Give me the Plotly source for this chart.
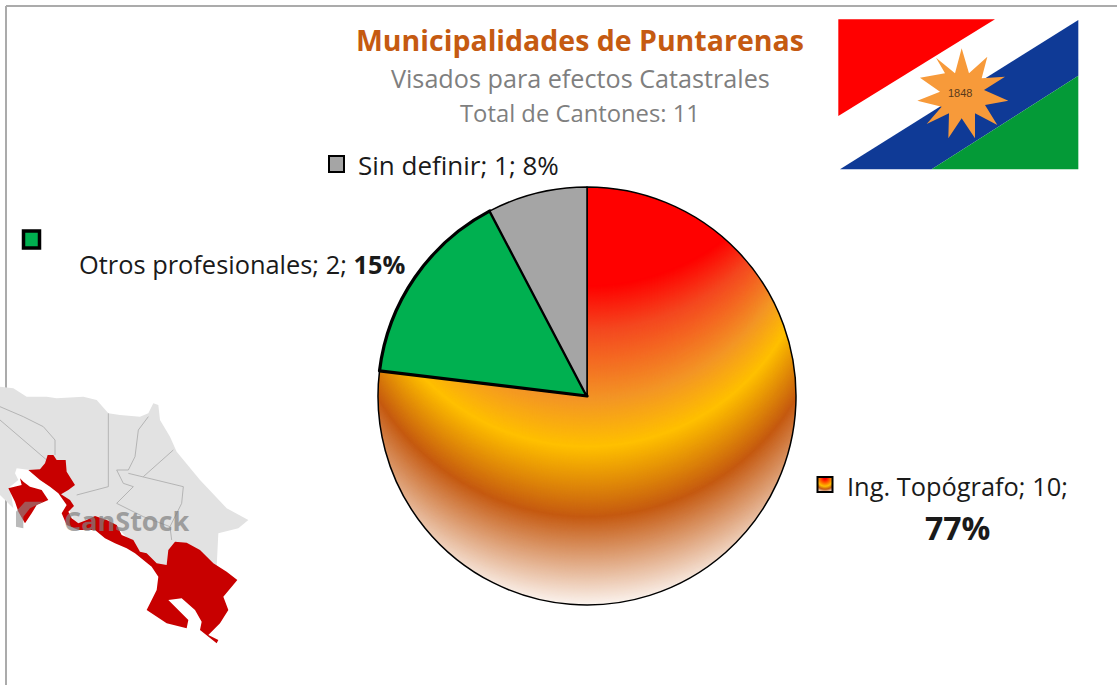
import base64
import plotly.graph_objects as go

W, H = 1117, 685

# ---- data ----
categories = ["Ing. Topógrafo", "Otros profesionales", "Sin definir"]
values = [10, 2, 1]
percents = [77, 15, 8]
title_text = "Municipalidades de Puntarenas"
subtitle_text = "Visados para efectos Catastrales"
total_text = "Total de Cantones: 11"
flag_year = "1848"
watermark = "CanStock"

FONT = "'Open Sans', sans-serif"
PIE_BOX = (378, 187, 796, 605)


def px(x):
    return x / W


def py(y):
    return 1 - y / H


def poly(points, ox, oy, s=1.0):
    parts = []
    for i, (a, b) in enumerate(points):
        parts.append(("M" if i == 0 else "L") + f"{px(ox + a * s):.5f},{py(oy + b * s):.5f}")
    return " ".join(parts)


def uri(svg):
    return "data:image/svg+xml;base64," + base64.b64encode(svg.encode()).decode()


def shape_poly(points, fill, ox, oy, s=1.0, line=None, lw=0, close=True, layer="below"):
    return dict(type="path", xref="paper", yref="paper", layer=layer,
                path=poly(points, ox, oy, s) + (" Z" if close else ""),
                fillcolor=fill if close else "rgba(0,0,0,0)",
                line=dict(color=line or "rgba(0,0,0,0)", width=lw))


def box(x0, y0, x1, y1, fill, line, lw):
    return dict(type="rect", xref="paper", yref="paper", layer="above",
                x0=px(x0), x1=px(x1), y0=py(y1), y1=py(y0),
                fillcolor=fill, line=dict(color=line, width=lw))


# Fill of the large slice: Plotly pies have no gradient fill, so a picture sits under
# the transparent slice. Its bands are not concentric, hence a stack of circles:
# (band's lowest y, band's centre y, colour), in page pixels.
gradient_bands = [
    (605, 300, (251, 243, 238)),
    (517, 273, (197, 90, 17)),
    (447, 219, (255, 192, 0)),
    (400, 180, (243, 150, 38)),
    (330, 105, (244, 72, 32)),
    (285, 60, (255, 0, 0)),
]
pie_size = PIE_BOX[2] - PIE_BOX[0]
circles = []
for (b0, c0, col0), (b1, c1, col1) in zip(gradient_bands, gradient_bands[1:]):
    steps = 2 * (b0 - b1)
    for i in range(steps):
        t = i / steps
        bottom = b0 + (b1 - b0) * t
        centre = c0 + (c1 - c0) * t
        rgb = ",".join(f"{col0[k] + (col1[k] - col0[k]) * t:.0f}" for k in range(3))
        circles.append(f'<circle cx="209" cy="{centre - PIE_BOX[1]:.2f}" r="{bottom - centre:.2f}" fill="rgb({rgb})"/>')
gradient_svg = f'''<svg xmlns="http://www.w3.org/2000/svg" width="{pie_size}" height="{pie_size}" viewBox="0 0 {pie_size} {pie_size}">
<defs><clipPath id="c"><circle cx="209" cy="209" r="208.5"/></clipPath></defs>
<g clip-path="url(#c)"><rect width="{pie_size}" height="{pie_size}" fill="rgb(251,243,238)"/>{"".join(circles)}</g></svg>'''

key_svg = '''<svg xmlns="http://www.w3.org/2000/svg" width="16" height="16" viewBox="0 0 16 16">
<defs><radialGradient id="k" gradientUnits="userSpaceOnUse" cx="8" cy="1" r="15">
<stop offset="0.1" stop-color="#FF0000"/><stop offset="0.59" stop-color="#FFC000"/>
<stop offset="0.8" stop-color="#C55A11"/><stop offset="1" stop-color="#F0D8C8"/></radialGradient></defs>
<rect width="16" height="16" fill="url(#k)"/></svg>'''

fig = go.Figure(go.Pie(
    labels=categories,
    values=values,
    sort=False,
    direction="clockwise",
    rotation=0,
    textinfo="none",
    hoverinfo="label+value+percent",
    domain=dict(x=[px(PIE_BOX[0]), px(PIE_BOX[2])], y=[py(PIE_BOX[3]), py(PIE_BOX[1])]),
    marker=dict(colors=["rgba(0,0,0,0)", "#00B050", "#A5A5A5"],
                line=dict(color="#000000", width=[1.5, 3.2, 1.5])),
    showlegend=False,
))

# ---- flag (decoration) ----
FX, FY, FS = 830, 10, 1 / 3
flag_red = [(25, 28), (495, 28), (25, 318)]
flag_blue = [(745, 30), (745, 197), (305, 478), (30, 478)]
flag_green = [(745, 197), (745, 478), (305, 478)]
flag_star = [(395, 115), (417, 190), (472, 140), (455, 205), (525, 200), (462, 240), (535, 272),
             (465, 285), (502, 345), (435, 310), (435, 385), (395, 325), (355, 385), (357, 310),
             (290, 342), (335, 290), (262, 272), (330, 245), (270, 203), (345, 190), (318, 143), (375, 190)]

# ---- map (decoration) ----
MX, MY, MS = 0, 380, 1 / 3
map_land = [(0, 20), (40, 25), (80, 50), (140, 50), (170, 55), (250, 50), (290, 60), (325, 100), (360, 105),
            (420, 110), (445, 100), (460, 70), (475, 75), (480, 120), (510, 170), (530, 215), (600, 300),
            (680, 385), (745, 420), (715, 445), (655, 460), (650, 560), (480, 560), (430, 525), (350, 440),
            (230, 440), (190, 350), (130, 300), (90, 270), (50, 265), (45, 280), (55, 300), (30, 320),
            (40, 385), (0, 345)]
map_red_a = [(85, 270), (120, 268), (135, 250), (143, 225), (160, 225), (170, 240), (197, 240), (200, 275),
             (225, 315), (205, 330), (183, 343), (210, 360), (222, 378), (205, 395), (215, 415), (235, 430),
             (260, 420), (285, 408), (320, 420), (350, 435), (365, 465), (400, 480), (420, 515), (440, 520),
             (470, 550), (500, 555), (505, 510), (525, 485), (560, 488), (600, 510), (640, 550), (680, 575),
             (712, 600), (670, 650), (685, 690), (660, 730), (625, 765), (655, 780), (650, 790), (600, 750),
             (605, 725), (585, 690), (545, 655), (505, 660), (565, 720), (560, 745), (500, 730), (440, 690),
             (470, 630), (475, 590), (455, 560), (430, 540), (405, 520), (380, 505), (345, 490), (315, 475),
             (285, 450), (235, 450), (200, 435), (185, 400), (200, 375), (175, 340), (150, 320), (120, 300)]
map_red_b = [(25, 325), (65, 315), (60, 295), (70, 305), (90, 320), (125, 330), (145, 360), (110, 375),
             (95, 400), (75, 430), (55, 395), (45, 365)]
map_borders = [
    [(0, 80), (70, 110), (130, 140), (165, 180), (165, 225)],
    [(0, 120), (140, 240)],
    [(325, 100), (325, 320), (230, 345)],
    [(445, 110), (415, 150), (405, 230), (385, 270), (350, 270), (370, 310), (400, 320), (350, 370),
     (430, 410), (510, 440), (515, 480)],
    [(520, 210), (430, 290)],
    [(385, 280), (550, 320), (545, 370), (510, 440)],
]
logo = [(48, 440), (48, 395), (75, 365), (130, 365), (90, 385), (70, 410), (70, 445)]

shapes = [
    # frame
    dict(type="line", xref="paper", yref="paper", layer="below", x0=px(6), x1=px(6), y0=py(6), y1=py(395),
         line=dict(color="#ABABAB", width=2)),
    dict(type="line", xref="paper", yref="paper", layer="below", x0=px(6), x1=px(6), y0=py(497), y1=py(685),
         line=dict(color="#ABABAB", width=2)),
    dict(type="line", xref="paper", yref="paper", layer="below", x0=px(6), x1=1, y0=py(6), y1=py(6),
         line=dict(color="#ABABAB", width=2)),
    shape_poly(flag_red, "#FF0000", FX, FY, FS),
    shape_poly(flag_blue, "#0F3A96", FX, FY, FS),
    shape_poly(flag_green, "#049A37", FX, FY, FS),
    shape_poly(flag_star, "#F79A3A", FX, FY, FS),
    shape_poly(map_land, "#E2E2E2", MX, MY, MS),
]
for b in map_borders:
    shapes.append(shape_poly(b, None, MX, MY, MS, line="#A8A8A8", lw=0.8, close=False))
shapes += [
    shape_poly(map_red_a, "#C80000", MX, MY, MS),
    shape_poly(map_red_b, "#C80000", MX, MY, MS),
    shape_poly(logo, "rgba(140,140,140,0.6)", MX, MY, MS, layer="above"),
    # legend keys
    box(329, 156, 344, 172, "#A5A5A5", "#000000", 2),
    box(23.5, 231, 39.5, 248, "#00B050", "#000000", 3.5),
    box(817.5, 477, 832.5, 492, "rgba(0,0,0,0)", "#000000", 2),
]

images = [
    dict(source=uri(gradient_svg), xref="paper", yref="paper", x=px(PIE_BOX[0]), y=py(PIE_BOX[1]),
         sizex=px(pie_size), sizey=pie_size / H, xanchor="left", yanchor="top",
         sizing="stretch", layer="below"),
    dict(source=uri(key_svg), xref="paper", yref="paper", x=px(817.5), y=py(477),
         sizex=px(15), sizey=15 / H, xanchor="left", yanchor="top", sizing="stretch", layer="above"),
]


def note(x, y, text, size, color="#1A1A1A", anchor="left", op=1.0, family=FONT):
    return dict(xref="paper", yref="paper", x=px(x), y=py(y), text=text, showarrow=False,
                xanchor=anchor, yanchor="middle", align=anchor, opacity=op,
                font=dict(family=family, size=size, color=color))


annotations = [
    note(580, 40, f"<b>{title_text}</b>", 28.5, "#C55A11", "center"),
    note(580, 78, subtitle_text, 25.2, "#7F7F7F", "center"),
    note(580, 113, total_text, 23.8, "#7F7F7F", "center"),
    note(356, 165, f"{categories[2]}; {values[2]}; {percents[2]}%", 26),
    note(77, 264, f"{categories[1]}; {values[1]}; <b>{percents[1]}%</b>", 25.4),
    note(845, 486, f"{categories[0]}; {values[0]};", 25.4),
    note(957, 527, f"<b>{percents[0]}%</b>", 32, "#1A1A1A", "center"),
    note(960, 93, flag_year, 11, "#5A3A1A", "center", family="Liberation Sans"),
    note(126, 520, f"<b>{watermark}</b>", 27, "#808080", "center", 0.7),
]

fig.update_layout(
    width=W, height=H,
    margin=dict(l=0, r=0, t=0, b=0),
    paper_bgcolor="#FFFFFF",
    shapes=shapes, images=images, annotations=annotations,
)
fig.write_html("out.html", config=dict(displayModeBar=False),
               post_script="document.body.style.margin='0';document.body.style.overflow='hidden';")
